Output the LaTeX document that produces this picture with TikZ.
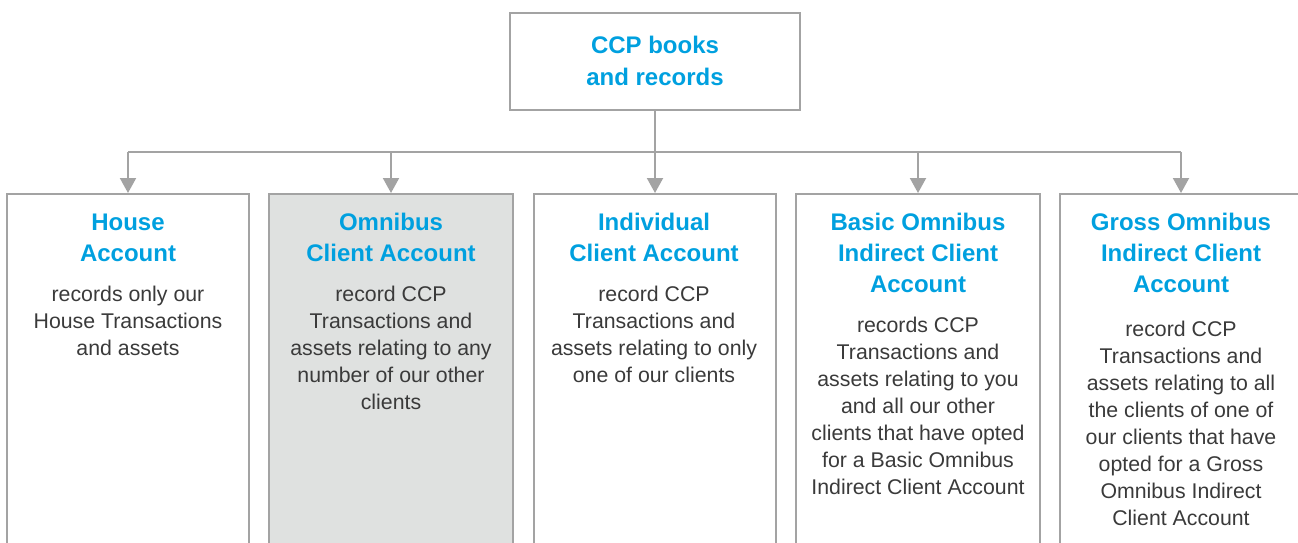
\documentclass[tikz,border=0pt]{standalone}
\usepackage{fontspec}
\setmainfont{Liberation Sans}
\usetikzlibrary{arrows.meta}
\definecolor{ccpblue}{HTML}{00A0DF}
\definecolor{bodygray}{HTML}{3A3A3A}
\definecolor{linegray}{HTML}{A3A3A3}
\definecolor{omnifill}{HTML}{DFE1E0}
\tikzset{
  acct/.style={draw=linegray, line width=2pt, minimum width=242pt, minimum height=420pt, anchor=north, inner sep=0pt},
  topbox/.style={draw=linegray, line width=2pt, minimum width=290pt, minimum height=97pt, inner sep=0pt},
  head/.style={anchor=base, align=center, inner sep=0pt, text=ccpblue, font=\fontsize{24}{31}\selectfont\bfseries},
  body/.style={anchor=base, align=center, inner sep=0pt, text=bodygray, font=\fontsize{21.3}{27}\selectfont},
  conn/.style={draw=linegray, line width=2pt},
  arr/.style={conn, -{Triangle[length=15pt,width=16pt]}}
}
\begin{document}
\begin{tikzpicture}[x=1pt,y=-1pt]
\useasboundingbox (0,0) rectangle (1298,542);
\clip (0,0) rectangle (1298,542);
% top (anchor=base is the last line's baseline)
\node[topbox] (top) at (655,61.5) {};
\node[head, font=\fontsize{24}{32}\selectfont\bfseries] (toptext) at (655,85) {CCP books\\and records};
% account boxes
\node[acct] (b1) at (128,193) {};
\node[acct, fill=omnifill, minimum width=244pt] (b2) at (391,193) {};
\node[acct] (b3) at (654.5,193) {};
\node[acct, minimum width=244pt] (b4) at (918,193) {};
\node[acct] (b5) at (1181,193) {};
% connectors
\coordinate (j) at (655,152);
\coordinate (jl) at (128,152);
\coordinate (jr) at (1181,152);
\coordinate (j2) at (391,152);
\coordinate (j4) at (918,152);
\draw[conn] (top.south) -- (j);
\draw[conn] (jl) -- (jr);
\draw[arr] (jl) -- (b1.north);
\draw[arr] (j2) -- (b2.north);
\draw[arr] (j) -- (j |- b3.north);
\draw[arr] (j4) -- (b4.north);
\draw[arr] (jr) -- (b5.north);
% texts
\node[head] (h1) at (128,261) {House\\Account};
\node[body] (t1) at (128,355) {records only our\\House Transactions\\and assets};
\node[head] (h2) at (391,261) {Omnibus\\Client Account};
\node[body] (t2) at (391,409) {record CCP\\Transactions and\\assets relating to any\\number of our other\\clients};
\node[head] (h3) at (654,261) {Individual\\Client Account};
\node[body] (t3) at (654,382) {record CCP\\Transactions and\\assets relating to only\\one of our clients};
\node[head] (h4) at (918,292) {Basic Omnibus\\Indirect Client\\Account};
\node[body] (t4) at (918,494) {records CCP\\Transactions and\\assets relating to you\\and all our other\\clients that have opted\\for a Basic Omnibus\\Indirect Client Account};
\node[head] (h5) at (1181,292) {Gross Omnibus\\Indirect Client\\Account};
\node[body] (t5) at (1181,525) {record CCP\\Transactions and\\assets relating to all\\the clients of one of\\our clients that have\\opted for a Gross\\Omnibus Indirect\\Client Account};
\end{tikzpicture}
\end{document}
